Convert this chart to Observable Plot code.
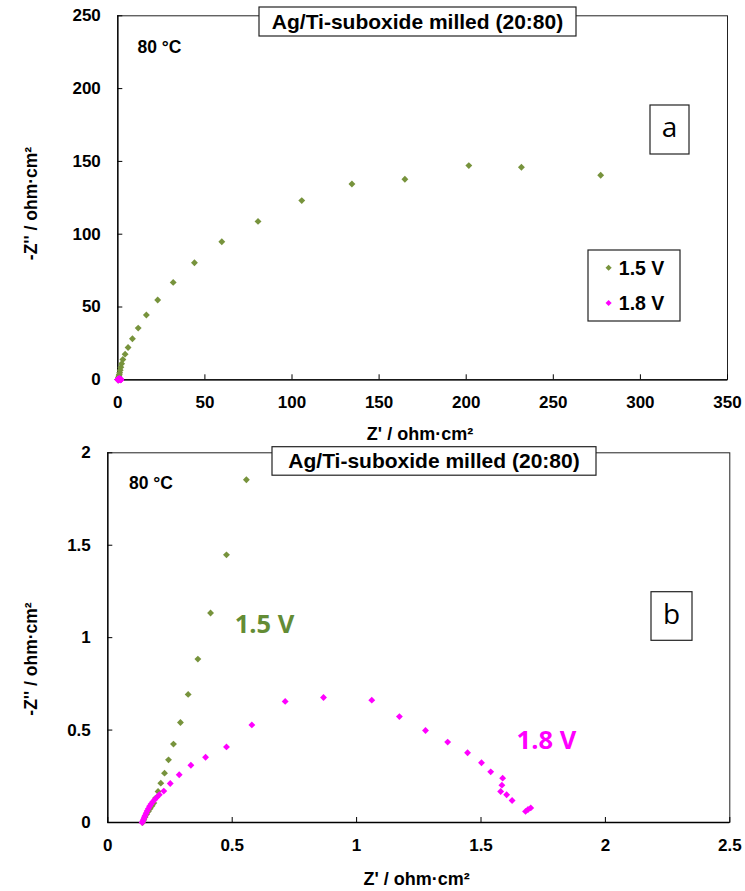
<!DOCTYPE html>
<html><head><meta charset="utf-8">
<script src="https://cdn.jsdelivr.net/npm/d3@7"></script>
<script src="https://cdn.jsdelivr.net/npm/@observablehq/plot@0.6"></script>
<style>
html,body{margin:0;padding:0;background:#fff;}
#wrap{position:relative;width:745px;height:891px;overflow:hidden;}
#wrap svg{display:block;overflow:visible;}
</style></head><body><div id="wrap"></div>
<script>
// ---- data ----
const series = ["1.5 V", "1.8 V"];
const colors = ["#77933C", "#FF00FF"];

// 1.5 V : Z' and -Z'' (ohm·cm²)
const re15 = [0.140, 0.145, 0.150, 0.156, 0.163, 0.170, 0.178, 0.185, 0.192, 0.202, 0.213, 0.228, 0.244, 0.264, 0.292, 0.323, 0.362, 0.413, 0.477, 0.557,
  0.68, 0.85, 1.08, 1.38, 1.75, 2.2, 2.9, 4.2, 5.9, 8.4, 11.7, 16.4, 22.9, 31.8, 44.0, 59.7, 80.5, 105.6, 134.4, 164.8, 201.5, 231.7, 277.2];
const im15 = [0.000, 0.015, 0.030, 0.045, 0.060, 0.075, 0.090, 0.105, 0.132, 0.168, 0.213, 0.267, 0.339, 0.424, 0.541, 0.693, 0.884, 1.133, 1.448, 1.854,
  2.6, 3.6, 4.9, 6.6, 8.7, 11.0, 13.9, 17.6, 22.2, 28.2, 35.5, 44.5, 54.8, 66.9, 80.4, 94.8, 108.8, 123.1, 134.5, 137.7, 147.1, 146.0, 140.5];

// 1.8 V
const re18 = [0.138, 0.141, 0.144, 0.147, 0.150, 0.154, 0.158, 0.163, 0.168, 0.174, 0.181, 0.189, 0.197, 0.207, 0.225, 0.251, 0.287, 0.334, 0.393, 0.477,
  0.579, 0.713, 0.867, 1.061, 1.172, 1.277, 1.366, 1.446, 1.502, 1.539, 1.587, 1.584, 1.579, 1.603, 1.625, 1.679, 1.689, 1.700];
const im18 = [0.000, 0.008, 0.018, 0.028, 0.038, 0.050, 0.062, 0.075, 0.088, 0.100, 0.112, 0.124, 0.136, 0.150, 0.170, 0.211, 0.258, 0.310, 0.353, 0.409,
  0.528, 0.655, 0.676, 0.662, 0.573, 0.498, 0.435, 0.377, 0.323, 0.274, 0.240, 0.202, 0.168, 0.150, 0.119, 0.060, 0.070, 0.079];

const xTicksA = [0, 50, 100, 150, 200, 250, 300, 350];
const yTicksA = [0, 50, 100, 150, 200, 250];
const xTicksB = [0, 0.5, 1, 1.5, 2, 2.5];
const yTicksB = [0, 0.5, 1, 1.5, 2];

const titleText = "Ag/Ti-suboxide milled (20:80)";
const tempText = "80 °C";
const xTitle = "Z' / ohm·cm²";
const yTitle = "-Z'' / ohm·cm²";
const panelLetters = ["a", "b"];

const rows = [
  ...re15.map((x, i) => ({s: series[0], re: x, im: im15[i]})),
  ...re18.map((x, i) => ({s: series[1], re: x, im: im18[i]}))
];

const FONT = "Arial, 'Liberation Sans', sans-serif";
const CAL = "'Open Sans', 'Liberation Sans', sans-serif";

function panel({height, mt, mb, ml, mr, xDomain, yDomain, xTicks, yTicks, data, extra = []}) {
  return Plot.plot({
    width: 745, height,
    marginTop: mt, marginBottom: mb, marginLeft: ml, marginRight: mr,
    style: {fontFamily: FONT, background: "white", overflow: "visible"},
    x: {domain: xDomain},
    y: {domain: yDomain},
    color: {domain: series, range: colors},
    marks: [
      Plot.frame({stroke: "#222", strokeWidth: 1}),
      Plot.ruleX([xDomain[0]], {stroke: "#000", strokeWidth: 1.3}),
      Plot.ruleY([yDomain[0]], {stroke: "#000", strokeWidth: 1.3}),
      Plot.axisX(xTicks, {tickSize: 5, dy: -5, fill: "none", stroke: "#000", label: null}),
      Plot.axisX(xTicks, {tickSize: 0, tickPadding: 16, fontSize: 17, fontWeight: "bold", fill: "#000", label: null, tickFormat: d => String(d)}),
      Plot.axisY(yTicks, {tickSize: 5, dx: 5, fill: "none", stroke: "#000", label: null}),
      Plot.axisY(yTicks, {tickSize: 0, tickPadding: 17, fontSize: 17, fontWeight: "bold", fill: "#000", label: null, tickFormat: d => String(d)}),
      Plot.dot(data, {x: "re", y: "im", fill: "s", symbol: "diamond2", r: 3.1}),
      ...extra
    ]
  });
}

function addText(svg, x, y, text, opts = {}) {
  const t = d3.select(svg).append("text")
    .attr("x", x).attr("y", y)
    .attr("dy", opts.dy ?? "0.35em")
    .attr("text-anchor", opts.anchor ?? "middle")
    .attr("font-family", opts.font ?? FONT)
    .attr("font-size", opts.size ?? 17)
    .attr("font-weight", opts.weight ?? "bold")
    .attr("fill", opts.color ?? "#000")
    .text(text);
  if (opts.rotate) t.attr("transform", `rotate(${opts.rotate},${x},${y})`);
  return t;
}
function addBox(svg, x, y, w, h) {
  d3.select(svg).append("rect").attr("x", x).attr("y", y).attr("width", w).attr("height", h)
    .attr("fill", "white").attr("stroke", "#222").attr("stroke-width", 1.2);
}

const wrap = document.getElementById("wrap");

// ---- panel a ----
const A = panel({height: 444, mt: 15.3, mb: 444 - 379.3, ml: 117.3, mr: 18,
  xDomain: [0, 350], yDomain: [0, 250], xTicks: xTicksA, yTicks: yTicksA, data: rows});
wrap.appendChild(A);
addBox(A, 259, 7, 317, 29);
addText(A, 417.5, 21.5, titleText, {size: 21});
addText(A, 137.5, 47, tempText, {anchor: "start", size: 17.5});
addBox(A, 650, 105, 39, 49);
addText(A, 669.5, 127, panelLetters[0], {font: CAL, weight: "normal", size: 28});
addBox(A, 588, 250, 92, 71);
[267.7, 303].forEach((yy, i) => {
  d3.select(A).append("path").attr("transform", `translate(608.6,${yy})`)
    .attr("d", d3.symbol(d3.symbolDiamond2, 24)()).attr("fill", colors[i]);
  addText(A, 618.8, yy, series[i], {anchor: "start", size: 19.5});
});
addText(A, 420, 434, xTitle, {size: 18});
addText(A, 36.5, 203.5, yTitle, {size: 17.5, rotate: -90, dy: "0"});

// ---- panel b ----
const off = 444;
const B = panel({height: 447, mt: 452.3 - off, mb: 891 - 822, ml: 107.3, mr: 15.7,
  xDomain: [0, 2.5], yDomain: [0, 2], xTicks: xTicksB, yTicks: yTicksB,
  data: rows.filter(d => d.im <= 2 && d.re <= 2.5),
  extra: [
    Plot.text([series[0]], {x: 0.63, y: 1.07, text: d => d, fill: "#638C35", fontSize: 25.5, fontWeight: "bold", fontFamily: CAL}),
    Plot.text([series[1]], {x: 1.763, y: 0.444, text: d => d, fill: colors[1], fontSize: 25.5, fontWeight: "bold", fontFamily: CAL})
  ]});
wrap.appendChild(B);
addBox(B, 272, 446.7 - off, 324, 28.5);
addText(B, 434, 461 - off, titleText, {size: 21});
addText(B, 129, 483.3 - off, tempText, {anchor: "start", size: 17.5});
addBox(B, 651, 591.7 - off, 41, 48.6);
addText(B, 671.5, 614 - off, panelLetters[1], {font: CAL, weight: "normal", size: 28});
addText(B, 416.7, 878.3 - off, xTitle, {size: 18});
addText(B, 36.5, 659 - off, yTitle, {size: 17.5, rotate: -90, dy: "0"});
</script>
</body></html>
